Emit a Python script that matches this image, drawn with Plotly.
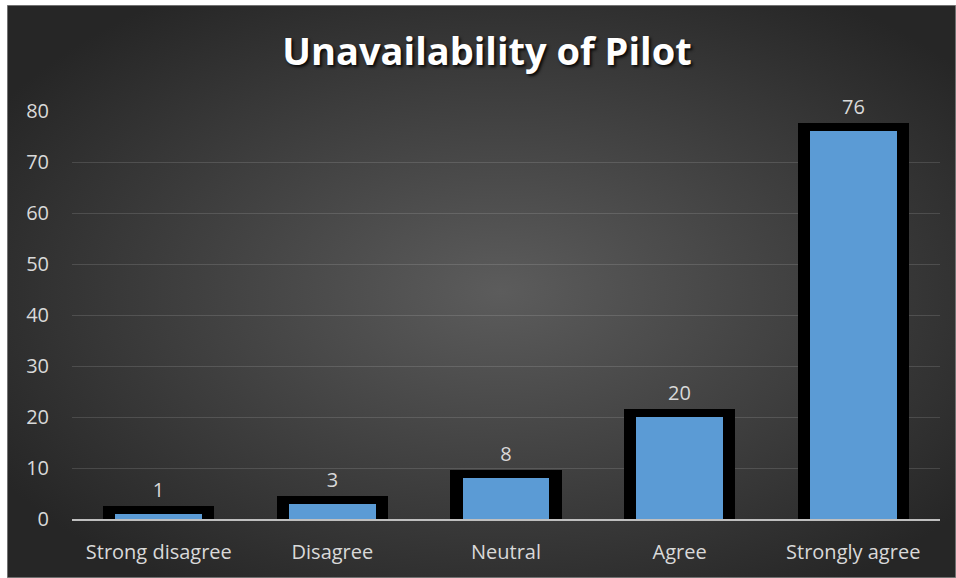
import base64
import plotly.graph_objects as go

# Survey responses: "Unavailability of Pilot"
categories = ["Strong disagree", "Disagree", "Neutral", "Agree", "Strongly agree"]
counts = [1, 3, 8, 20, 76]
y_ticks = [0, 10, 20, 30, 40, 50, 60, 70, 80]

W, H = 956, 578
M_L, M_R, M_T, M_B = 72, 16, 111, 59
plot_w = W - M_L - M_R
plot_h = H - M_T - M_B

# thick black frame drawn around each bar (in data units above the value)
frame_pad = 1.6
frame_base = -0.4
frame_tops = [c + frame_pad - frame_base for c in counts]

fig = go.Figure()

fig.add_trace(go.Bar(
    x=categories,
    y=frame_tops,
    base=frame_base,
    width=0.64,
    marker=dict(color="#000000", line=dict(width=0)),
    text=[str(c) for c in counts],
    textposition="outside",
    textfont=dict(family="Open Sans", size=20, color="#d9d9d9"),
    constraintext="none",
    cliponaxis=False,
    hoverinfo="skip",
    showlegend=False,
))

fig.add_trace(go.Bar(
    x=categories,
    y=counts,
    width=0.5,
    marker=dict(color="#5b9bd5", line=dict(width=0)),
    cliponaxis=False,
    showlegend=False,
))

# dark radial-gradient backdrop for the chart area
svg = f"""<svg xmlns='http://www.w3.org/2000/svg' width='{W-7}' height='{H-5}'>
<defs><radialGradient id='g' cx='52%' cy='50%' r='62%'>
<stop offset='0%' stop-color='#5c5c5c'/>
<stop offset='100%' stop-color='#262626'/>
</radialGradient></defs>
<rect x='0' y='0' width='{W-7}' height='{H-5}' fill='url(#g)' stroke='#8a8a8a' stroke-width='1.5'/>
</svg>"""
svg_uri = "data:image/svg+xml;base64," + base64.b64encode(svg.encode()).decode()

fig.add_layout_image(dict(
    source=svg_uri,
    xref="paper", yref="paper",
    x=(7 - M_L) / plot_w, y=(H - M_B - 5) / plot_h,
    sizex=(W - 7) / plot_w, sizey=(H - 5) / plot_h,
    xanchor="left", yanchor="top",
    sizing="stretch",
    layer="below",
))

fig.update_layout(
    width=W, height=H,
    margin=dict(l=M_L, r=M_R, t=M_T, b=M_B),
    paper_bgcolor="#ffffff",
    plot_bgcolor="rgba(0,0,0,0)",
    barmode="overlay",
    bargap=0,
    title=dict(
        text="<b>Unavailability of Pilot</b>",
        x=487 / W, xanchor="center", xref="container",
        y=1 - 52 / H, yanchor="middle", yref="container",
        font=dict(family="Open Sans", size=38, color="#ffffff",
                  shadow="2px 2px 3px rgba(0,0,0,0.85)"),
    ),
    xaxis=dict(
        showline=True, linecolor="#bfbfbf", linewidth=2,
        showgrid=False, zeroline=False,
        ticks="", ticklabelstandoff=14,
        tickfont=dict(family="Open Sans", size=20, color="#d9d9d9"),
    ),
    yaxis=dict(
        range=[0, 80], tickvals=y_ticks,
        showgrid=True, gridcolor="rgba(255,255,255,0.13)", gridwidth=1,
        zeroline=False, showline=False,
        ticks="", ticklabelstandoff=22,
        tickfont=dict(family="Open Sans", size=20, color="#d9d9d9"),
    ),
)

fig.write_html("out.html")
